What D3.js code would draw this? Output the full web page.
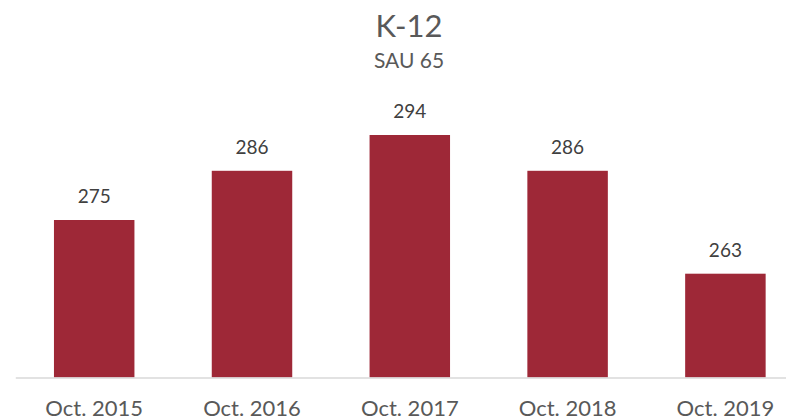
<!DOCTYPE html>
<html>
<head>
<meta charset="utf-8">
<script src="https://cdn.jsdelivr.net/npm/d3@7"></script>
<style>
  body { margin: 0; background: #fff; }
  svg { display: block; font-family: Lato, "Open Sans", sans-serif; }
</style>
</head>
<body>
<script>
// chart data
var categories = ["Oct. 2015", "Oct. 2016", "Oct. 2017", "Oct. 2018", "Oct. 2019"];
var enrollment = [275, 286, 294, 286, 263];
var title = "K-12";
var subtitle = "SAU 65";

var width = 786, height = 417;
var baseline = 377.5;

var svg = d3.select("body").append("svg")
    .attr("width", width)
    .attr("height", height);

var x = d3.scaleBand()
    .domain(categories)
    .range([15.3, 804.3])
    .paddingInner(0.49)
    .paddingOuter(0.245);

var y = d3.scaleLinear()
    .domain([239.8, 294])
    .range([baseline, 135]);

// title
svg.append("text")
    .attr("x", 409)
    .attr("y", 37)
    .attr("text-anchor", "middle")
    .style("font-size", "31px")
    .style("fill", "#595959")
    .text(title);
svg.append("text")
    .attr("x", 409)
    .attr("y", 68)
    .attr("text-anchor", "middle")
    .style("font-size", "21px")
    .style("fill", "#595959")
    .text(subtitle);

// bars
svg.append("g").selectAll("rect")
    .data(enrollment)
    .enter().append("rect")
    .attr("x", function (d, i) { return x(categories[i]); })
    .attr("y", function (d) { return y(d); })
    .attr("width", x.bandwidth())
    .attr("height", function (d) { return baseline - y(d); })
    .style("fill", "#9e2837");

// value labels
svg.append("g").selectAll("text")
    .data(enrollment)
    .enter().append("text")
    .attr("x", function (d, i) { return x(categories[i]) + x.bandwidth() / 2; })
    .attr("y", function (d) { return y(d) - 17; })
    .attr("text-anchor", "middle")
    .style("font-size", "19px")
    .style("fill", "#404040")
    .text(function (d) { return d; });

// x axis
var xAxis = d3.axisBottom(x).tickSize(0).tickSizeOuter(0);
var gx = svg.append("g")
    .attr("transform", "translate(0," + baseline + ")")
    .call(xAxis);
gx.select(".domain").attr("stroke", "#d9d9d9").attr("stroke-width", 1.5);
gx.selectAll("text")
    .attr("y", 38.5)
    .attr("dy", 0)
    .style("font-family", "Lato, 'Open Sans', sans-serif")
    .style("font-size", "22px")
    .style("fill", "#595959");
</script>
</body>
</html>
